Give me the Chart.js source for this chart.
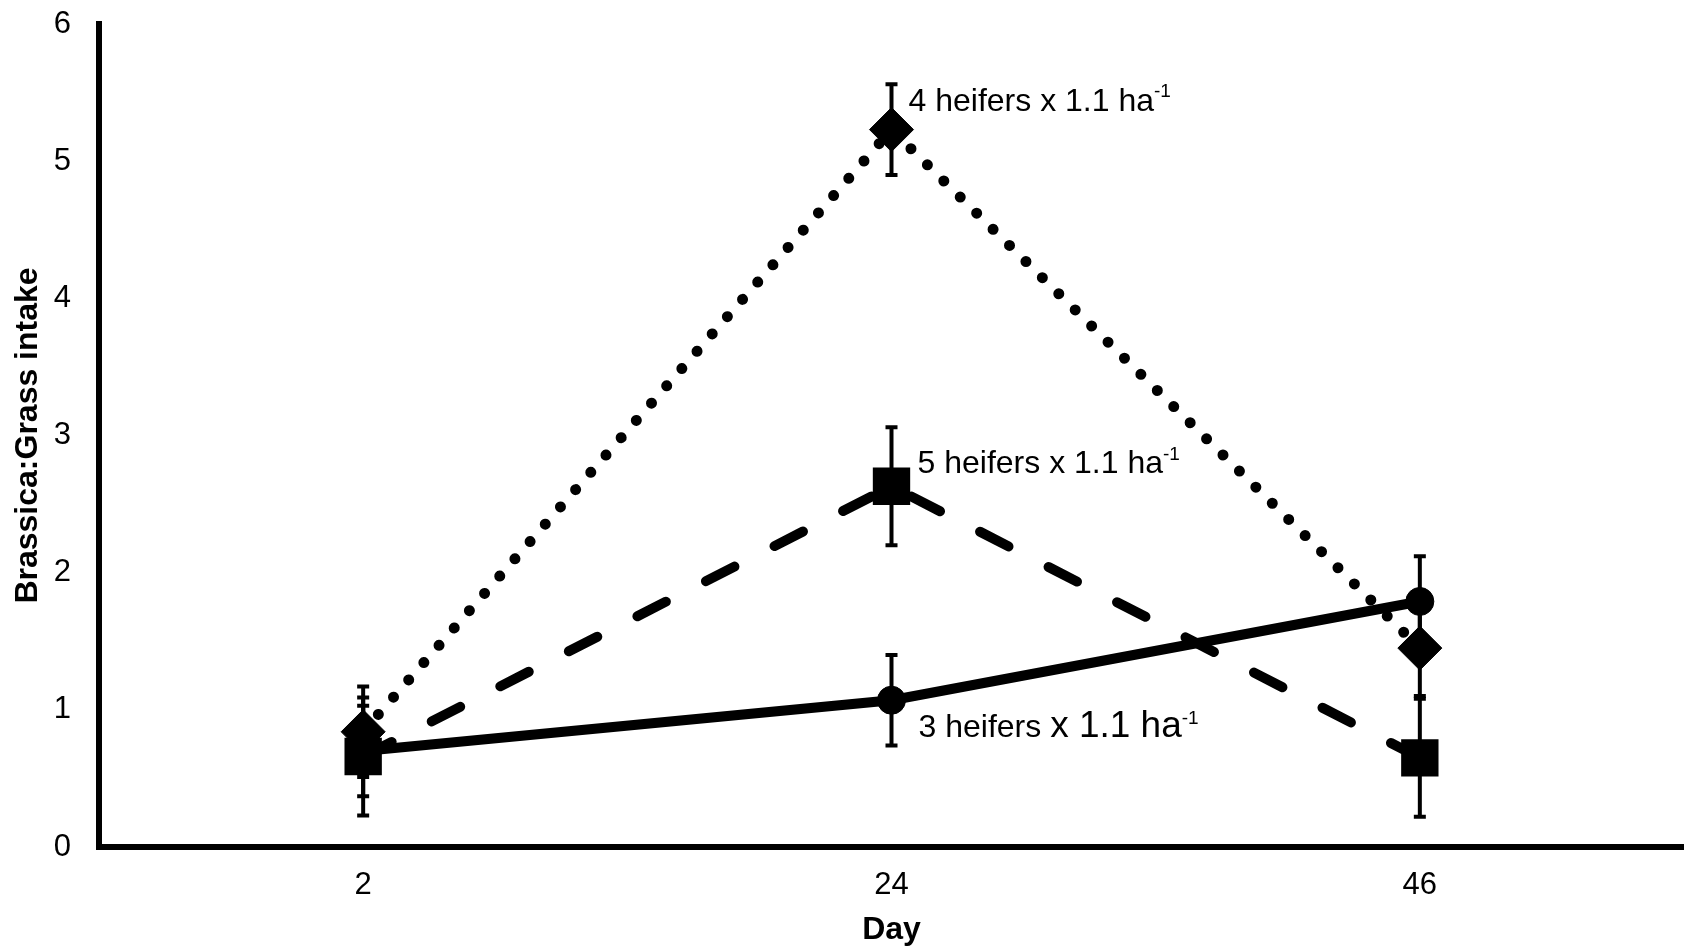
<!DOCTYPE html>
<html>
<head>
<meta charset="utf-8">
<script src="https://cdn.jsdelivr.net/npm/chart.js@4.4.1/dist/chart.umd.min.js"></script>
<style>
  html, body { margin: 0; padding: 0; background: #fff; overflow: hidden; }
  #intakeChart { display: block; }
</style>
</head>
<body>
<canvas id="intakeChart" width="1684" height="952"></canvas>
<script>
// Brassica:Grass intake by day
const days = ['2', '24', '46'];
const yTicks = [0, 1, 2, 3, 4, 5, 6];

const heifers3 = [0.70, 1.07, 1.79];
const heifers3Err = [0.33, 0.33, 0.33];
const heifers4 = [0.84, 5.23, 1.45];
const heifers4Err = [0.33, 0.33, 0.35];
const heifers5 = [0.66, 2.63, 0.65];
const heifers5Err = [0.43, 0.43, 0.43];

const seriesNames = ['3 heifers', '4 heifers', '5 heifers'];
const rateText = 'x 1.1 ha';
const rateSup = '-1';

const FONT = '"Liberation Sans", Arial, sans-serif';

// error bars drawn from the err arrays through the y scale
const errorBars = {
  id: 'errorBars',
  afterDatasetsDraw(chart) {
    const ctx = chart.ctx;
    const y = chart.scales.y;
    ctx.save();
    ctx.strokeStyle = '#000';
    ctx.lineWidth = 4;
    chart.data.datasets.forEach((ds, i) => {
      const meta = chart.getDatasetMeta(i);
      meta.data.forEach((pt, j) => {
        const v = ds.data[j], e = ds.errors[j];
        const top = y.getPixelForValue(v + e);
        const bot = y.getPixelForValue(v - e);
        ctx.beginPath();
        ctx.moveTo(pt.x, top); ctx.lineTo(pt.x, bot);
        ctx.moveTo(pt.x - 6, top); ctx.lineTo(pt.x + 6, top);
        ctx.moveTo(pt.x - 6, bot); ctx.lineTo(pt.x + 6, bot);
        ctx.stroke();
      });
    });
    ctx.restore();
  }
};

// series labels next to the day 24 points
const seriesLabels = {
  id: 'seriesLabels',
  afterDraw(chart) {
    const ctx = chart.ctx;
    ctx.save();
    ctx.fillStyle = '#000';
    ctx.textBaseline = 'alphabetic';
    chart.data.datasets.forEach((ds, i) => {
      const pt = chart.getDatasetMeta(i).data[1];
      const lab = ds.labelPos;
      let x = pt.x + lab.dx;
      const base = pt.y + lab.dy;
      ctx.font = lab.size + 'px ' + FONT;
      const first = ds.label + ' ';
      ctx.fillText(first, x, base);
      x += ctx.measureText(first).width;
      ctx.font = lab.rateSize + 'px ' + FONT;
      ctx.fillText(rateText, x, base);
      x += ctx.measureText(rateText).width;
      ctx.font = Math.round(lab.size * 0.6) + 'px ' + FONT;
      ctx.fillText(rateSup, x, base - lab.size * 0.42);
    });
    ctx.restore();
  }
};

// keep the plot area fixed: no extra room for edge tick labels
function noEdgePadding(scale) {
  scale.paddingTop = 0;
  scale.paddingBottom = 0;
  scale.paddingLeft = 0;
  scale.paddingRight = 0;
}

const ctx = document.getElementById('intakeChart').getContext('2d');
const chart = new Chart(ctx, {
  type: 'line',
  data: {
    labels: days,
    datasets: [
      {
        label: seriesNames[0],
        data: heifers3,
        errors: heifers3Err,
        labelPos: { dx: 27, dy: 37, size: 32, rateSize: 37 },
        borderColor: '#000',
        backgroundColor: '#000',
        borderWidth: 10,
        pointStyle: 'circle',
        pointRadius: 14,
        pointBorderWidth: 1,
        order: 1
      },
      {
        label: seriesNames[1],
        data: heifers4,
        errors: heifers4Err,
        labelPos: { dx: 17, dy: -19, size: 32, rateSize: 32 },
        borderColor: '#000',
        backgroundColor: '#000',
        borderWidth: 11,
        borderDash: [0.01, 23],
        borderCapStyle: 'round',
        pointStyle: 'rectRot',
        pointRadius: 22,
        pointBorderWidth: 1,
        order: 2
      },
      {
        label: seriesNames[2],
        data: heifers5,
        errors: heifers5Err,
        labelPos: { dx: 26, dy: -13, size: 32, rateSize: 32 },
        borderColor: '#000',
        backgroundColor: '#000',
        borderWidth: 10,
        borderDash: [32, 45],
        borderCapStyle: 'round',
        pointStyle: 'rect',
        pointRadius: 25,
        pointBorderWidth: 2,
        order: 0
      }
    ]
  },
  options: {
    responsive: false,
    animation: false,
    devicePixelRatio: 1,
    clip: false,
    layout: { autoPadding: false, padding: { top: 24, right: 0, bottom: 0, left: 0 } },
    plugins: {
      legend: { display: false },
      tooltip: { enabled: false }
    },
    scales: {
      x: {
        type: 'category',
        offset: true,
        grid: { display: false, drawTicks: false },
        border: { display: true, color: '#000', width: 6 },
        ticks: { color: '#000', padding: 20, font: { family: FONT, size: 31 } },
        title: {
          display: true, text: 'Day', color: '#000',
          font: { family: FONT, size: 32, weight: 'bold' },
          padding: { top: 0, bottom: 3 }
        },
        afterFit(scale) { scale.height = 105; noEdgePadding(scale); }
      },
      y: {
        min: 0,
        max: 6,
        grid: { display: false, drawTicks: false },
        border: { display: true, color: '#000', width: 6 },
        afterBuildTicks(scale) { scale.ticks = yTicks.map(v => ({ value: v })); },
        ticks: { color: '#000', padding: 28, font: { family: FONT, size: 31 } },
        title: {
          display: true, text: 'Brassica:Grass intake', color: '#000',
          font: { family: FONT, size: 32, weight: 'bold' },
          padding: { top: 9, bottom: 0 }
        },
        afterFit(scale) { scale.width = 99; noEdgePadding(scale); }
      }
    }
  },
  plugins: [errorBars, seriesLabels]
});
</script>
</body>
</html>
